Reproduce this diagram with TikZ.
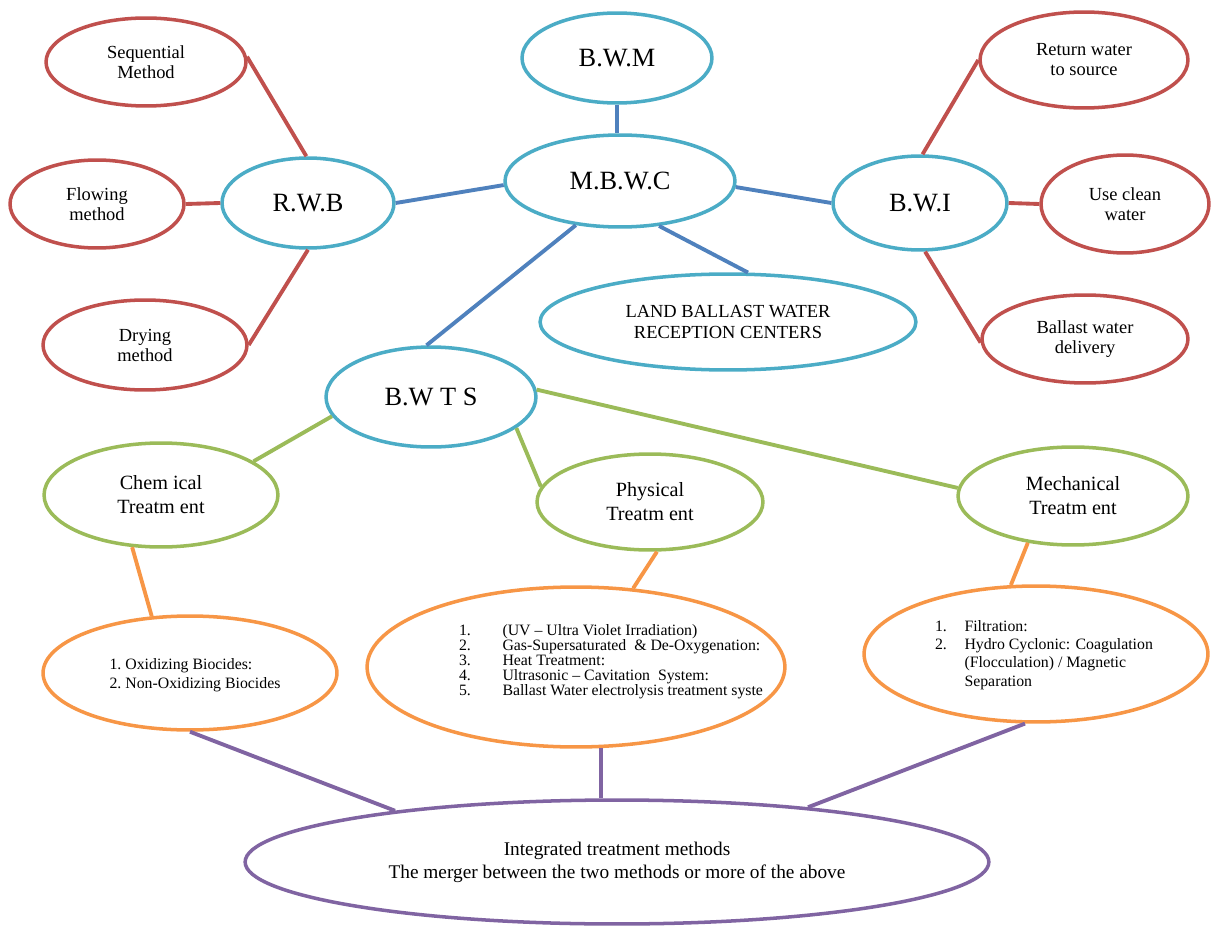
\documentclass[tikz,border=0pt]{standalone}
\usepackage{fontspec}
\setmainfont{Liberation Serif}
\usetikzlibrary{shapes.geometric}
\definecolor{bwblue}{HTML}{4BACC6}
\definecolor{linkblue}{HTML}{4F81BD}
\definecolor{rwred}{HTML}{C0504D}
\definecolor{trgreen}{HTML}{9BBB59}
\definecolor{mtorange}{HTML}{F79646}
\definecolor{igpurple}{HTML}{8064A2}
\begin{document}
\begin{tikzpicture}[
    x=0.02cm, y=-0.02cm,
    ell/.style 2 args={ellipse, fill=white, line width=2pt, inner sep=0pt, align=center,
        minimum width=#1*0.04cm, minimum height=#2*0.04cm},
    hub/.style={draw=bwblue, font=\fontsize{15}{17}\selectfont},
    leaf/.style={draw=rwred, font=\fontsize{10.5}{11.4}\selectfont},
    kind/.style={draw=trgreen, font=\fontsize{11.5}{13.6}\selectfont},
    list/.style={draw=mtorange},
    merge/.style={draw=igpurple, font=\fontsize{11}{13}\selectfont},
    lst/.style={inner sep=0pt, align=left, font=\fontsize{9}{10.8}\selectfont},
    link/.style={line width=2.2pt}
]
\useasboundingbox (0,0) rectangle (1211,926);

\node[ell={95}{45}, hub] (bwm) at (617,58) {B.W.M};
\node[ell={115}{46}, hub] (mbwc) at (620,181) {M.B.W.C};
\node[ell={86}{45}, hub] (rwb) at (308,203) {R.W.B};
\node[ell={87}{47}, hub] (bwi) at (920,203) {B.W.I};
\node[ell={188}{48}, hub, font=\fontsize{10.5}{11.5}\selectfont] (land) at (728,322) {LAND BALLAST WATER\\RECEPTION CENTERS};
\node[ell={105}{50}, hub] (bwts) at (431,397) {B.W T S};

\node[ell={100}{44}, leaf] (seq) at (146,62) {Sequential\\Method};
\node[ell={87}{44}, leaf] (flow) at (97,204) {Flowing\\method};
\node[ell={102}{45}, leaf] (dry) at (145,345) {Drying\\method};
\node[ell={104}{48}, leaf] (ret) at (1084,60) {Return water\\to source};
\node[ell={84}{49}, leaf] (clean) at (1125,204) {Use clean\\water};
\node[ell={103}{44}, leaf] (deliv) at (1085,339) {Ballast water\\delivery};

\node[ell={117}{52}, kind] (chem) at (161,495) {Chem ical\\Treatm ent};
\node[ell={113}{48}, kind] (phys) at (650,502) {Physical\\Treatm ent};
\node[ell={115}{49}, kind] (mech) at (1073,496) {Mechanical\\Treatm ent};

\node[ell={147}{57}, list] (chemlist) at (190,673) {};
\node[ell={209}{80}, list] (physlist) at (576,667) {};
\node[ell={172}{68}, list] (mechlist) at (1036,654) {};
\node[ell={372}{62}, merge] (integ) at (617,862) {Integrated treatment methods\\The merger between the two methods or more of the above};

\node[lst] (chemtxt) at (195,675) {1.\ Oxidizing Biocides:\\2.\ Non-Oxidizing Biocides};
\node[lst, font=\fontsize{9}{7.9}\selectfont] (phystxt) at (611,662) {%
\begin{tabular}{@{}l@{\hspace{18pt}}l@{}}
1. & (UV -- Ultra Violet Irradiation)\\
2. & Gas-Supersaturated \ \& De-Oxygenation:\\
3. & Heat Treatment:\\
4. & Ultrasonic -- Cavitation \ System:\\
5. & Ballast Water electrolysis treatment syste
\end{tabular}};
\node[lst, font=\fontsize{9}{10.5}\selectfont] (mechtxt) at (1044,655) {%
\begin{tabular}{@{}l@{\hspace{10pt}}l@{}}
1. & Filtration:\\
2. & Hydro Cyclonic: Coagulation\\
   & (Flocculation) / Magnetic\\
   & Separation
\end{tabular}};

\draw[link, rwred] (seq.3) -- (rwb.92);
\draw[link, rwred] (flow.east) -- (rwb.west);
\draw[link, rwred] (dry.0) -- (rwb.south);
\draw[link, rwred] (bwi.87) -- (ret.west);
\draw[link, rwred] (bwi.east) -- (clean.west);
\draw[link, rwred] (bwi.-84) -- (deliv.182);

\draw[link, linkblue] (rwb.east) -- (mbwc.182);
\draw[link, linkblue] (bwm.south) -- (bwm.south |- mbwc.north);
\draw[link, linkblue] (mbwc.-3) -- (bwi.west);
\draw[link, linkblue] (mbwc.-49) -- (land.68);
\draw[link, linkblue] (mbwc.-135) -- (bwts.95);

\draw[link, trgreen] (bwts.191) -- (chem.20);
\draw[link, trgreen] (bwts.-20) -- (phys.172);
\draw[link, trgreen] (bwts.4) -- (mech.176);

\draw[link, mtorange] (chem.-119) -- (chemlist.124);
\draw[link, mtorange] (phys.-82) -- (physlist.54);
\draw[link, mtorange] (mech.-134) -- (mechlist.110);

\draw[link, igpurple] (chemlist.south) -- (integ.167);
\draw[link, igpurple] (physlist.-73) -- (physlist.-73 |- integ.north);
\draw[link, igpurple] (mechlist.-99) -- (integ.16);
\end{tikzpicture}
\end{document}
